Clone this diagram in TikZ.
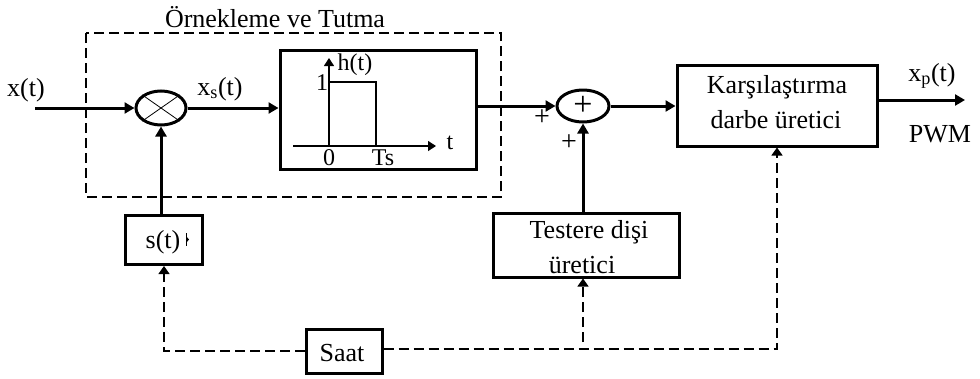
\documentclass[tikz,border=0pt]{standalone}
\usepackage{fontspec}
\setmainfont{Liberation Serif}
\usetikzlibrary{arrows.meta,shapes}
\usetikzlibrary{shapes.geometric}

\tikzset{
  lbl/.style={inner sep=0pt, font=\fontsize{26}{28}\selectfont},
  smalllbl/.style={inner sep=0pt, font=\fontsize{24}{26}\selectfont},
  blok/.style={draw, line width=3pt, rectangle, inner sep=0pt},
  oval/.style={draw, line width=3pt, ellipse, inner sep=0pt},
  sinyal/.style={line width=3pt, -{Triangle[length=10pt,width=11pt]}},
  saat/.style={line width=1.3pt, dash pattern=on 10pt off 5pt, -{Triangle[length=8pt,width=11pt]}},
  eksen/.style={line width=1.2pt, -{Triangle[length=8pt,width=10pt]}}
}

\begin{document}
\begin{tikzpicture}[x=1pt,y=-1pt]
  \useasboundingbox (0,0) rectangle (980,378);

  %sample and hold frame
  \draw[line width=1.3pt, dash pattern=on 10pt off 5pt] (86,33) rectangle (501,197);

  %draw blocks
  \foreach \x/\y/\w/\h/\name in {378/110/196/119/hold, 164/240/77/49/st, 344/351/76/44/clk, 586/245/186/64/saw, 777/105.5/200/81/cmp}{
      \node[blok, minimum width=\w pt, minimum height=\h pt] (\name) at (\x,\y) {};
  }

  %mixer and adder
  \node[oval, minimum width=50pt, minimum height=34pt] (mul) at (161,108) {};
  \node[oval, minimum width=52pt, minimum height=32pt] (sum) at (583,106) {};
  \draw[line width=0.8pt] (mul.north west) -- (mul.south east);
  \draw[line width=0.8pt] (mul.south west) -- (mul.north east);

  %free ends
  \coordinate (in) at (35,108);
  \coordinate (out) at (965,100);
  \coordinate (cmpout) at (cmp.east |- out);
  \coordinate (holdout) at (hold.east |- sum);
  \coordinate (corner1) at (st.south |- clk.west);
  \coordinate (corner2) at (777,349);
  \coordinate (clkright) at (clk.east |- corner2);
  \coordinate (branch) at (584,342);

  %solid signals
  \draw[sinyal] (in) -- (mul.west);
  \draw[sinyal] (mul.east) -- (mul.east -| hold.west);
  \draw[sinyal] (holdout) -- (sum.west);
  \draw[sinyal] (sum.east) -- (sum.east -| cmp.west);
  \draw[sinyal] (cmpout) -- (out);
  \draw[sinyal] (mul.south |- st.north) -- (mul.south);
  \draw[sinyal] (sum.south |- saw.north) -- (sum.south);

  %clock lines
  \draw[saat] (clk.west) -- (corner1) -- (st.south);
  \draw[saat] (clkright) -- (corner2) -- (corner2 |- cmp.south);
  \draw[saat] (sum.south |- branch) -- (sum.south |- saw.south);

  %pulse inside the block
  \coordinate (o) at (329,146);
  \coordinate (ytop) at (329,58);
  \coordinate (xleft) at (293,146);
  \coordinate (xright) at (436,146);
  \coordinate (p1) at (329,82);
  \coordinate (p2) at (376,82);
  \coordinate (p3) at (376,146);
  \draw[eksen] (o) -- (ytop);
  \draw[eksen] (xleft) -- (xright);
  \draw[line width=1.2pt] (p1) -- (p2) -- (p3);

  %mark next to s(t)
  \coordinate (m1) at (186,233);
  \coordinate (m2) at (186,246);
  \coordinate (m3) at (189,239.5);
  \draw[line width=0.9pt] (m1) -- (m2);
  \fill (186,236) -- (m3) -- (186,243) -- cycle;

  %texts
  \foreach \x/\y/\txt/\name in {
      275/17/Örnekleme ve Tutma/ttl, 26/90/x(t)/tx, 220/89/x\textsubscript{s}(t)/txs,
      932/76/x\textsubscript{p}(t)/txp, 940/134/PWM/tpwm, 342/353/Saat/tclk,
      589/232/Testere dişi/tsaw1, 582/265/üretici/tsaw2,
      777/87/Karşılaştırma/tcmp1, 776/120/darbe üretici/tcmp2,
      163/242/s(t)/tst}{
      \node[lbl] (\name) at (\x,\y) {\txt};
  }
  \foreach \x/\y/\txt/\name in {
      355/65/h(t)/th, 322/83/1/tone, 450/143/t/tt, 329/158/0/tzero, 383/158/Ts/tts}{
      \node[smalllbl] (\name) at (\x,\y) {\txt};
  }

  %plus signs
  \foreach \x/\y/\s/\name in {542/118/28/pa, 569/143/28/pb, 583/106/34/pc}{
      \node[lbl, font=\fontsize{\s}{\s}\selectfont] (\name) at (\x,\y) {+};
  }
\end{tikzpicture}
\end{document}
